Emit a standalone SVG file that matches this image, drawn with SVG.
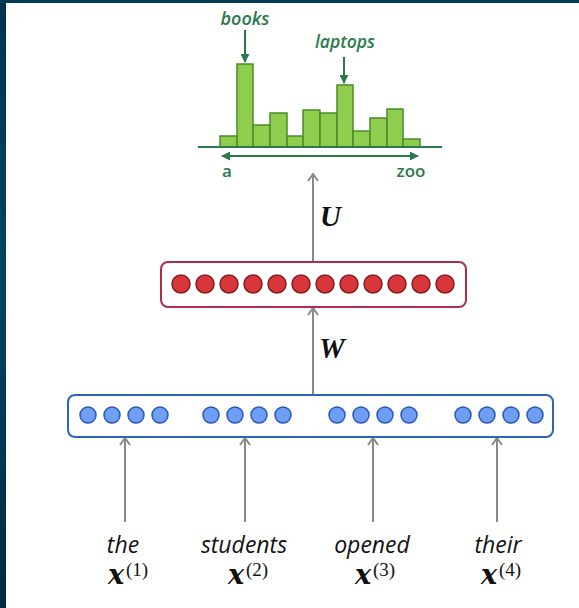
<svg xmlns="http://www.w3.org/2000/svg" width="579" height="608" viewBox="0 0 579 608">
  <defs>
    <linearGradient id="edge" x1="0" y1="0" x2="0" y2="1">
      <stop offset="0" stop-color="#00334f"/>
      <stop offset="0.45" stop-color="#004464"/>
      <stop offset="1" stop-color="#002b42"/>
    </linearGradient>
    <marker id="grayHead" viewBox="0 0 10 12" refX="9" refY="6" markerWidth="10" markerHeight="12" markerUnits="userSpaceOnUse" orient="auto-start-reverse">
      <path d="M2,1 L9,6 L2,11" fill="none" stroke="#8a8a8a" stroke-width="2"/>
    </marker>
    <marker id="greenHead" viewBox="0 0 10 10" refX="9" refY="5" markerWidth="9" markerHeight="9" markerUnits="userSpaceOnUse" orient="auto-start-reverse">
      <path d="M0,0 L10,5 L0,10 Z" fill="#2b7a4b"/>
    </marker>
    <style>
      .bar { fill: #8fcd4f; stroke: #4c8a2c; stroke-width: 1.5; }
      .axis { stroke: #2b7a4b; stroke-width: 2; fill: none; }
      .gtxt { fill: #2b7a4b; font-family: "Open Sans", "Liberation Sans", sans-serif; }
      .gray { stroke: #8a8a8a; stroke-width: 2; fill: none; }
      .rbox { fill: #ffffff; stroke: #b02c48; stroke-width: 2; }
      .rdot { fill: #d8363b; stroke: #8c1c22; stroke-width: 1.5; }
      .bbox { fill: #ffffff; stroke: #2f63c0; stroke-width: 2; }
      .bdot { fill: #6f9ff2; stroke: #2858bb; stroke-width: 1.5; }
      .word { font-family: "Open Sans", "Liberation Sans", sans-serif; font-style: italic; font-size: 23px; fill: #111; text-anchor: middle; }
      .mx { font-family: "DejaVu Serif", "Liberation Serif", serif; font-style: italic; font-weight: bold; font-size: 27px; fill: #111; }
      .sup { font-family: "Liberation Serif", serif; font-size: 19px; fill: #111; }
      .mat { font-family: "Liberation Serif", serif; font-style: italic; font-weight: bold; font-size: 29px; fill: #111; }
    </style>
  </defs>

  <!-- page background and slide edge -->
  <rect x="0" y="0" width="579" height="608" fill="#ffffff"/>
  <rect x="0" y="0" width="6" height="608" fill="url(#edge)"/>
  <rect x="0" y="0" width="579" height="3" fill="#003a57"/>

  <!-- output distribution -->
  <g id="distribution">
    <rect class="bar" x="220" y="136" width="17" height="11"/>
    <rect class="bar" x="237" y="64" width="16" height="83"/>
    <rect class="bar" x="253" y="125" width="17" height="22"/>
    <rect class="bar" x="270" y="113" width="17" height="34"/>
    <rect class="bar" x="287" y="136" width="16" height="11"/>
    <rect class="bar" x="303" y="110" width="17" height="37"/>
    <rect class="bar" x="320" y="113" width="17" height="34"/>
    <rect class="bar" x="337" y="85" width="16" height="62"/>
    <rect class="bar" x="353" y="131" width="17" height="16"/>
    <rect class="bar" x="370" y="118" width="17" height="29"/>
    <rect class="bar" x="387" y="109" width="16" height="38"/>
    <rect class="bar" x="403" y="139" width="17" height="8"/>
    <line class="axis" x1="198" y1="147" x2="442" y2="147"/>
    <line class="axis" x1="222" y1="156" x2="418" y2="156" marker-start="url(#greenHead)" marker-end="url(#greenHead)"/>
    <text class="gtxt" x="227" y="177" font-size="17" font-weight="600" text-anchor="middle">a</text>
    <text class="gtxt" x="411" y="177" font-size="17" font-weight="600" text-anchor="middle">zoo</text>
    <text class="gtxt" x="245" y="25" font-size="18" font-weight="600" font-style="italic" text-anchor="middle">books</text>
    <line class="axis" x1="245" y1="30" x2="245" y2="62" stroke-width="1.5" marker-end="url(#greenHead)"/>
    <text class="gtxt" x="345" y="48" font-size="17.5" font-weight="600" font-style="italic" text-anchor="middle">laptops</text>
    <line class="axis" x1="344" y1="57" x2="344" y2="83" stroke-width="1.5" marker-end="url(#greenHead)"/>
  </g>

  <!-- connectors -->
  <g id="connectors">
    <line class="gray" x1="313" y1="262" x2="313" y2="174" marker-end="url(#grayHead)"/>
    <line class="gray" x1="313" y1="395" x2="313" y2="308" marker-end="url(#grayHead)"/>
    <line class="gray" x1="125" y1="522" x2="125" y2="438" marker-end="url(#grayHead)"/>
    <line class="gray" x1="245" y1="522" x2="245" y2="438" marker-end="url(#grayHead)"/>
    <line class="gray" x1="373" y1="522" x2="373" y2="438" marker-end="url(#grayHead)"/>
    <line class="gray" x1="497" y1="522" x2="497" y2="438" marker-end="url(#grayHead)"/>
    <text class="mat" x="320" y="226">U</text>
    <text class="mat" x="319" y="358">W</text>
  </g>

  <!-- hidden layer -->
  <g id="hidden">
    <rect class="rbox" x="161" y="262" width="305" height="45" rx="7"/>
    <circle class="rdot" cx="181" cy="284" r="9"/>
    <circle class="rdot" cx="205" cy="284" r="9"/>
    <circle class="rdot" cx="229" cy="284" r="9"/>
    <circle class="rdot" cx="253" cy="284" r="9"/>
    <circle class="rdot" cx="277" cy="284" r="9"/>
    <circle class="rdot" cx="301" cy="284" r="9"/>
    <circle class="rdot" cx="325" cy="284" r="9"/>
    <circle class="rdot" cx="349" cy="284" r="9"/>
    <circle class="rdot" cx="373" cy="284" r="9"/>
    <circle class="rdot" cx="397" cy="284" r="9"/>
    <circle class="rdot" cx="421" cy="284" r="9"/>
    <circle class="rdot" cx="445" cy="284" r="9"/>
  </g>

  <!-- concatenated word embeddings -->
  <g id="embeddings">
    <rect class="bbox" x="68" y="395" width="485" height="42" rx="7"/>
    <circle class="bdot" cx="88" cy="415" r="8"/>
    <circle class="bdot" cx="112" cy="415" r="8"/>
    <circle class="bdot" cx="136" cy="415" r="8"/>
    <circle class="bdot" cx="160" cy="415" r="8"/>
    <circle class="bdot" cx="211" cy="415" r="8"/>
    <circle class="bdot" cx="235" cy="415" r="8"/>
    <circle class="bdot" cx="259" cy="415" r="8"/>
    <circle class="bdot" cx="283" cy="415" r="8"/>
    <circle class="bdot" cx="337" cy="415" r="8"/>
    <circle class="bdot" cx="361" cy="415" r="8"/>
    <circle class="bdot" cx="385" cy="415" r="8"/>
    <circle class="bdot" cx="409" cy="415" r="8"/>
    <circle class="bdot" cx="463" cy="415" r="8"/>
    <circle class="bdot" cx="487" cy="415" r="8"/>
    <circle class="bdot" cx="511" cy="415" r="8"/>
    <circle class="bdot" cx="535" cy="415" r="8"/>
  </g>

  <!-- input words -->
  <g id="word1">
    <text class="word" x="123" y="553">the</text>
    <text class="mx" x="124" y="584" text-anchor="end">x</text>
    <text class="sup" x="126" y="576">(1)</text>
  </g>
  <g id="word2">
    <text class="word" x="244" y="553">students</text>
    <text class="mx" x="244" y="584" text-anchor="end">x</text>
    <text class="sup" x="246" y="576">(2)</text>
  </g>
  <g id="word3">
    <text class="word" x="372" y="553">opened</text>
    <text class="mx" x="371" y="584" text-anchor="end">x</text>
    <text class="sup" x="373" y="576">(3)</text>
  </g>
  <g id="word4">
    <text class="word" x="498" y="553">their</text>
    <text class="mx" x="497" y="584" text-anchor="end">x</text>
    <text class="sup" x="499" y="576">(4)</text>
  </g>
</svg>
